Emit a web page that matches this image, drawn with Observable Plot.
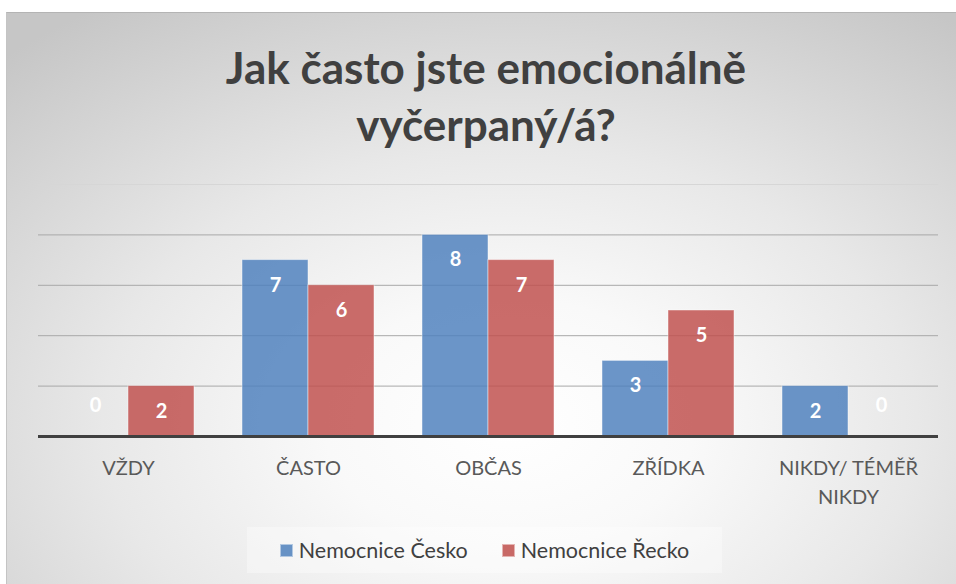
<!DOCTYPE html>
<html>
<head>
<meta charset="utf-8">
<script src="https://cdn.jsdelivr.net/npm/d3@7"></script>
<script src="https://cdn.jsdelivr.net/npm/@observablehq/plot@0.6"></script>
<style>
  html, body { margin: 0; padding: 0; background: #ffffff; }
  body { width: 956px; height: 584px; position: relative; overflow: hidden; font-family: Lato, "Open Sans", sans-serif; }
  #panel {
    position: absolute; left: 6px; top: 12px; width: 950px; height: 572px;
    background: radial-gradient(ellipse 78% 88% at 53% 72%, #ffffff 0%, #f9f9f9 25%, #e8e8e8 55%, #c6c6c6 100%);
    border-top: 1px solid #b4b4b4; border-left: 1px solid #c4c4c4; box-sizing: border-box;
  }
  #title {
    position: absolute; left: 0; width: 972px; top: 39px; text-align: center;
    font-size: 44px; line-height: 57px; font-weight: bold; color: #404040;
  }
  #chart { position: absolute; left: 0; top: 160px; }
  #legend {
    position: absolute; left: 247px; top: 527px; width: 475px; height: 46px;
    background: rgba(255,255,255,0.35);
    display: flex; align-items: center; justify-content: center; gap: 34px;
    font-size: 21.5px; color: #404040;
  }
  .item { display: flex; align-items: center; gap: 6px; }
  .sw { width: 13px; height: 13px; box-sizing: border-box; border: 1px solid rgba(255,255,255,0.5); }
</style>
</head>
<body>
<div id="panel"></div>
<div id="title">Jak často jste emocionálně<br>vyčerpaný/á?</div>
<div id="chart"></div>
<div id="legend"></div>
<script>
const categories = ["VŽDY", "ČASTO", "OBČAS", "ZŘÍDKA", "NIKDY/ TÉMĚŘ NIKDY"];
const categoryLabels = ["VŽDY", "ČASTO", "OBČAS", "ZŘÍDKA", "NIKDY/ TÉMĚŘ\nNIKDY"];
const series = ["Nemocnice Česko", "Nemocnice Řecko"];
const cesko = [0, 7, 8, 3, 2];
const recko = [2, 6, 7, 5, 0];
const gridTicks = [2, 4, 6, 8];
const topTick = [10];
const colors = ["#4f81bd", "#c0504d"];

const data = categories.flatMap((c, i) => [
  {category: c, series: series[0], value: cesko[i]},
  {category: c, series: series[1], value: recko[i]}
]);

const chart = Plot.plot({
  width: 956, height: 360,
  marginLeft: 37, marginRight: 18, marginTop: 24, marginBottom: 84,
  style: {background: "transparent", fontFamily: "Lato, 'Open Sans', sans-serif", overflow: "visible"},
  fx: {domain: categories, padding: 0, label: null},
  x: {domain: series, paddingInner: 0, paddingOuter: 0.345, axis: null},
  y: {domain: [0, 10], axis: null},
  color: {domain: series, range: colors},
  marks: [
    Plot.ruleY(gridTicks, {stroke: "#a8a8a8", strokeWidth: 1}),
    Plot.ruleY(topTick, {stroke: "#d6d6d6", strokeWidth: 1}),
    Plot.barY(data, {fx: "category", x: "series", y: "value", fill: "series", fillOpacity: 0.84,
      stroke: "#ffffff", strokeOpacity: 0.45, strokeWidth: 1}),
    Plot.text(data.filter(d => d.value > 0), {fx: "category", x: "series", y: "value",
      text: d => String(d.value), dy: 25, fill: "white", fontWeight: "bold", fontSize: 20}),
    Plot.text(data.filter(d => d.value === 0), {fx: "category", x: "series", frameAnchor: "bottom",
      text: d => String(d.value), dy: -25, fill: "white", fontWeight: "bold", fontSize: 20}),
    Plot.ruleY([0], {stroke: "#404040", strokeWidth: 3}),
    Plot.axisFx({anchor: "bottom", tickSize: 0, tickPadding: 18, fontSize: 20, fill: "#595959",
      label: null, lineHeight: 1.45,
      tickFormat: d => categoryLabels[categories.indexOf(d)]})
  ]
});
document.getElementById("chart").appendChild(chart);

const legend = document.getElementById("legend");
series.forEach((s, i) => {
  const item = document.createElement("div");
  item.className = "item";
  const sw = document.createElement("span");
  sw.className = "sw";
  sw.style.background = colors[i];
  sw.style.opacity = 0.85;
  const t = document.createElement("span");
  t.textContent = s;
  item.appendChild(sw); item.appendChild(t);
  legend.appendChild(item);
});
</script>
</body>
</html>
